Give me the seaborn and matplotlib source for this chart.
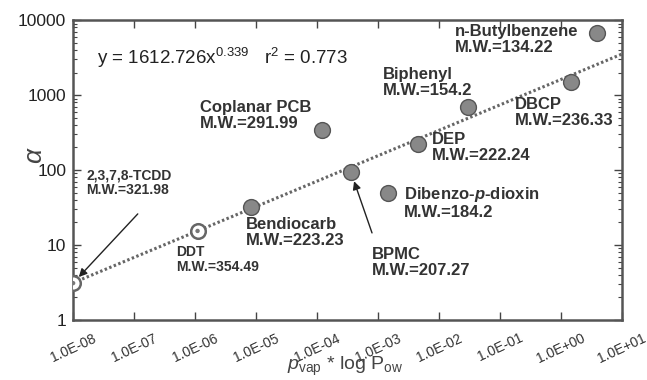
import matplotlib
matplotlib.use("Agg")
import matplotlib.pyplot as plt
import seaborn as sns
import pandas as pd
import numpy as np
from matplotlib.ticker import LogLocator, FixedLocator, FixedFormatter, NullFormatter

sns.set_theme(style="ticks")
plt.rcParams['font.family'] = ['Liberation Sans', 'DejaVu Sans']
plt.rcParams['mathtext.fontset'] = 'custom'
plt.rcParams['mathtext.rm'] = 'Liberation Sans'
plt.rcParams['mathtext.it'] = 'Liberation Sans:italic'
plt.rcParams['mathtext.bf'] = 'Liberation Sans:bold'
plt.rcParams['mathtext.bfit'] = 'Liberation Sans:bold:italic'

names = ["2,3,7,8-TCDD", "DDT", "Bendiocarb", "Coplanar PCB", "BPMC", "Dibenzo-p-dioxin",
         "DEP", "Biphenyl", "DBCP", "n-Butylbenzene"]
mw = ["321.98", "354.49", "223.23", "291.99", "207.27", "184.2", "222.24", "154.2", "236.33", "134.22"]
xval = [1.0e-8, 1.1e-6, 8.3e-6, 1.2e-4, 3.6e-4, 1.45e-3, 4.5e-3, 3.0e-2, 1.45, 3.9]
alpha = [3.1, 15.4, 32, 340, 94, 49, 222, 690, 1490, 6700]
open_marker = [True, True, False, False, False, False, False, False, False, False]

fit_a = 1612.726
fit_b = 0.339
fit_x = [1e-8, 10]

xticks = [1e-8, 1e-7, 1e-6, 1e-5, 1e-4, 1e-3, 1e-2, 1e-1, 1e0, 1e1]
xticklabels = ["1.0E-08", "1.0E-07", "1.0E-06", "1.0E-05", "1.0E-04", "1.0E-03",
               "1.0E-02", "1.0E-01", "1.0E+00", "1.0E+01"]
yticks = [1, 10, 100, 1000, 10000]
yticklabels = ["1", "10", "100", "1000", "10000"]

df = pd.DataFrame({"x": xval, "y": alpha, "name": names, "open": open_marker})
fit_df = pd.DataFrame({"x": fit_x, "y": [fit_a * v ** fit_b for v in fit_x]})

fig = plt.figure(figsize=(6.47, 3.80), dpi=100)
ax = fig.add_axes([0.113, 0.158, 0.848, 0.789])

ax.set_xscale("log")
ax.set_yscale("log")

sns.lineplot(data=fit_df, x="x", y="y", ax=ax, color="#666666", lw=2.2,
             linestyle=(0, (0.8, 0.8)), zorder=2)
closed = df[~df["open"]]
opened = df[df["open"]]
sns.scatterplot(data=closed, x="x", y="y", ax=ax, s=130, color="#888888",
                edgecolor="#555555", linewidth=1.0, zorder=3, legend=False)
sns.scatterplot(data=opened, x="x", y="y", ax=ax, s=110, facecolor="white",
                edgecolor="#666666", linewidth=1.8, zorder=3, legend=False)
sns.scatterplot(data=opened, x="x", y="y", ax=ax, s=10, color="#777777",
                edgecolor="none", zorder=4, legend=False)

ax.set_xlim(1e-8, 10)
ax.set_ylim(1, 10000)

ax.xaxis.set_major_locator(FixedLocator(xticks))
ax.xaxis.set_major_formatter(FixedFormatter(xticklabels))
ax.xaxis.set_minor_locator(LogLocator(base=10, subs=np.arange(2, 10)))
ax.xaxis.set_minor_formatter(NullFormatter())
ax.yaxis.set_major_locator(FixedLocator(yticks))
ax.yaxis.set_major_formatter(FixedFormatter(yticklabels))
ax.yaxis.set_minor_locator(LogLocator(base=10, subs=np.arange(2, 10)))
ax.yaxis.set_minor_formatter(NullFormatter())

ax.tick_params(which="both", direction="in", top=True, right=True, color="#444444")
ax.tick_params(which="major", length=6, width=1)
ax.tick_params(which="minor", length=3, width=0.8)
ax.tick_params(axis="y", labelsize=12.5, pad=5, labelcolor="#222222")
ax.tick_params(axis="x", labelsize=10, pad=8, labelcolor="#333333")
for lab in ax.get_xticklabels():
    lab.set_rotation(25)
    lab.set_ha("center")
for sp in ax.spines.values():
    sp.set_linewidth(1.8)
    sp.set_color("#555555")

ax.set_xlabel("")
ax.set_ylabel("")
fig.text(35 / 647, 1 - 155 / 380, r"$\alpha$", fontsize=19, color="#444444",
         ha="center", va="center", rotation=90)
fig.text(345 / 647, 1 - 366 / 380, r"$p_{\mathrm{vap}}$ * log P$_{\mathrm{ow}}$",
         fontsize=14, color="#444444", ha="center", va="center")

tc = "#333333"

def ptxt(px, py, s, fs=12, weight="bold"):
    fig.text(px / 647, 1 - py / 380, s, fontsize=fs, fontweight=weight, color=tc,
             ha="left", va="top", linespacing=1.05)

fig.text(97 / 647, 1 - 58 / 380,
         r"y = 1612.726x$^{0.339}$   r$^{2}$ = 0.773", fontsize=13.5, color="#222222",
         ha="left", va="center")

ptxt(200, 100, "Coplanar PCB\nM.W.=" + mw[3])
ptxt(455, 24, "n-Butylbenzene\nM.W.=" + mw[9])
ptxt(383, 67, "Biphenyl\nM.W.=" + mw[7])
ptxt(515, 97, "DBCP\nM.W.=" + mw[8])
ptxt(432, 132, "DEP\nM.W.=" + mw[6])
fig.text(404 / 647, 1 - 185 / 380, r"Dibenzo-$\mathbfit{p}$-dioxin" + "\nM.W.=" + mw[5],
         fontsize=12, fontweight="bold", color=tc, ha="left", va="top", linespacing=1.05)
ptxt(246, 217, "Bendiocarb\nM.W.=" + mw[2])
ptxt(372, 247, "BPMC\nM.W.=" + mw[4])
ptxt(176, 245, "DDT\nM.W.=" + mw[1], fs=10)
ptxt(86, 168, "2,3,7,8-TCDD\nM.W.=" + mw[0], fs=10)

ax.annotate("", xy=(xval[0], alpha[0]), xytext=(1.15e-7, 26), xycoords="data",
            arrowprops=dict(arrowstyle="-|>", color="#222222", lw=1.0,
                            shrinkA=0, shrinkB=6, mutation_scale=12))
ax.annotate("", xy=(xval[4], alpha[4]), xytext=(8.0e-4, 14.5), xycoords="data",
            arrowprops=dict(arrowstyle="-|>", color="#222222", lw=1.0,
                            shrinkA=0, shrinkB=7, mutation_scale=12))

fig.savefig("out.png", dpi=100)
